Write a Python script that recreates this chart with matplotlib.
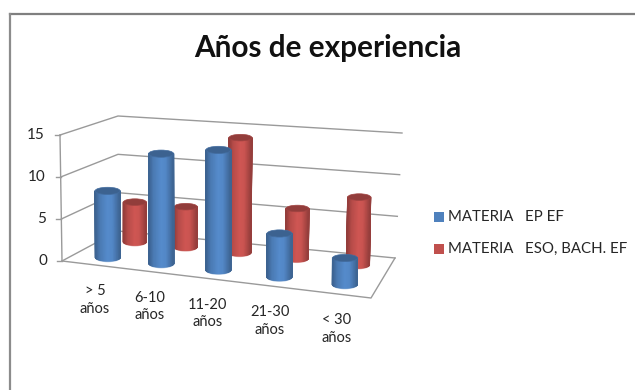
"""Clustered 3D-style cylinder chart of years of experience by subject group."""
import matplotlib
matplotlib.use("Agg")
import matplotlib.pyplot as plt
import numpy as np
from matplotlib.colors import LinearSegmentedColormap, to_rgb
from matplotlib.patches import Ellipse, Rectangle

plt.rcParams['font.family'] = ['Lato', 'DejaVu Sans']

categories = ['> 5\naños', '6-10\naños', '11-20\naños', '21-30\naños', '< 30\naños']
ep_values = [8, 13, 14, 5, 3]
eso_values = [5, 5, 14, 6, 8]
y_ticks = [0, 5, 10, 15]
series_names = ['MATERIA   EP EF', 'MATERIA   ESO, BACH. EF']

BLUE = '#4f81bd'
RED = '#c0504d'
TEXT = '#262626'
GRID = '#9a9a9a'

# floor corners of the box in figure pixels: front-left, front-right, back-right, back-left
floor = np.array([[62, 261], [371, 298], [395, 258], [118, 231]], dtype=float)
# pixel offset of one value unit at each of those corners
up = np.array([[-2, -126], [0, -136], [7, -125], [0, -115]], dtype=float) / 15
ZMAX = 15


def homography(corners):
    src = [(0, 0), (1, 0), (1, 1), (0, 1)]
    a, b = [], []
    for (u, v), (x, y) in zip(src, corners):
        a.append([u, v, 1, 0, 0, 0, -u * x, -v * x])
        a.append([0, 0, 0, u, v, 1, -u * y, -v * y])
        b += [x, y]
    return np.append(np.linalg.solve(np.array(a), np.array(b)), 1).reshape(3, 3)


H = homography(floor)


def project(u, v, z=0.0):
    # u runs along the categories, v from front to back, z is the value
    p = H @ np.array([u, v, 1.0])
    base = p[:2] / p[2]
    w = np.array([(1 - u) * (1 - v), u * (1 - v), u * v, (1 - u) * v])
    return base + z * (w @ up)


def shade_map(color):
    rgb = np.array(to_rgb(color))
    return LinearSegmentedColormap.from_list('shade', [
        (0.0, rgb * 0.78),
        (0.3, np.clip(rgb * 1.05, 0, 1)),
        (0.5, np.clip(rgb * 1.08, 0, 1)),
        (0.8, rgb * 0.95),
        (1.0, rgb * 0.74),
    ])


def cylinder(ax, u, v, value, color, rx, ry, zorder):
    cx, cy = project(u, v)
    tx, ty = project(u, v, value)
    # bars lean less than the walls do
    tx = cx + (tx - cx) * 0.5
    rgb = np.array(to_rgb(color))
    ang = np.linspace(np.pi, 0, 41)
    # two-row mesh for the front half of the side wall, shaded left to right
    xs = np.vstack([tx + rx * np.cos(ang), cx + rx * np.cos(ang)])
    ys = np.vstack([ty + ry * np.sin(ang), cy + ry * np.sin(ang)])
    shade = (np.cos(ang[::-1]) + 1) / 2
    ax.pcolormesh(xs, ys, np.vstack([shade, shade]), shading='gouraud',
                  cmap=shade_map(color), vmin=0, vmax=1, zorder=zorder)
    # smooth the mesh's hard side edges
    for sign in (-1, 1):
        ax.plot([tx + sign * rx, cx + sign * rx], [ty, cy], color=rgb * 0.78, lw=0.8,
                zorder=zorder + 0.05)
    ax.add_patch(Ellipse((tx, ty), 2 * rx, 2 * ry, facecolor=rgb * 0.76,
                         edgecolor=rgb * 0.84, linewidth=0.5, zorder=zorder + 0.1))
    # thin pale rim along the base of the cylinder
    ax.plot(cx + rx * np.cos(ang), cy + (ry + 0.6) * np.sin(ang), color=rgb * 0.5 + 0.5,
            lw=0.8, zorder=zorder - 0.1)


fig = plt.figure(figsize=(6.35, 3.9), dpi=100)
ax = fig.add_axes([0, 0, 1, 1])
ax.axis('off')

# chart frame, only the top and left sides fall inside the crop
ax.plot([10, 635], [14, 14], color='#7f7f7f', lw=1.6, zorder=1)
ax.plot([10, 10], [14, 390], color='#8c8c8c', lw=1.6, zorder=1)

ax.text(327.5, 48, 'Años de experiencia', fontsize=21.4, fontweight='bold', color='#111111',
        ha='center', va='center')

# gridlines on the side and back walls, plus the floor outline
for tick in y_ticks:
    pts = np.array([project(0, 0, tick), project(0, 1, tick), project(1, 1, tick)])
    ax.plot(pts[:, 0], pts[:, 1], color=GRID, lw=1.0, zorder=2)
    fx, fy = pts[0]
    ax.plot([fx - 5, fx], [fy, fy], color=GRID, lw=1.0, zorder=2)
    ax.text(fx - 15, fy, str(tick), fontsize=11, color=TEXT, ha='right', va='center')
ax.plot(*zip(project(0, 0, 0), project(0, 0, ZMAX)), color=GRID, lw=1.0, zorder=2)
front = np.array([project(0, 0), project(1, 0), project(1, 1)])
ax.plot(front[:, 0], front[:, 1], color=GRID, lw=1.0, zorder=2)

# back row first so the front row overlaps it
for i, value in enumerate(eso_values):
    cylinder(ax, 0.126 + 0.195 * i, 0.72, value, RED, 11.5, 3.3, 3 + i * 0.2)
for i, value in enumerate(ep_values):
    cylinder(ax, 0.125 + 0.196 * i, 0.22, value, BLUE, 12.5, 3.6, 5 + i * 0.2)

for i, label in enumerate(categories):
    x, y = project(0.125 + 0.195 * i, 0)
    ax.text(x, y + 35, label, fontsize=10.5, color=TEXT, ha='center', va='center',
            linespacing=1.3)

# legend
for y, color, name in zip([217, 249], [BLUE, RED], series_names):
    ax.add_patch(Rectangle((434, y - 5), 10, 10, facecolor=color, edgecolor='none'))
    ax.text(448, y, name, fontsize=10.8, color=TEXT, ha='left', va='center')

ax.set_xlim(0, 635)
ax.set_ylim(390, 0)
fig.savefig('out.png', dpi=100)
plt.close(fig)
